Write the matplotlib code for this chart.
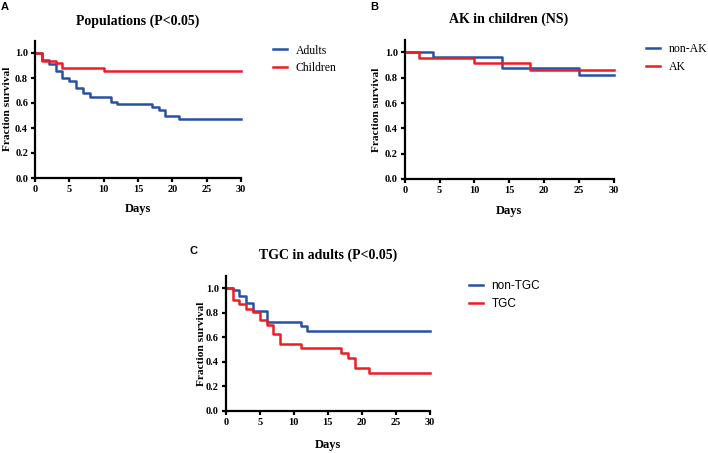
import matplotlib
matplotlib.use("Agg")
import matplotlib.pyplot as plt

# ---- data ----
# Panel A: Populations
a_adult_t = [0, 1, 2, 3, 4, 5, 6, 7, 8, 11, 12, 17, 18, 19, 21, 30]
a_adult_s = [1.0, 0.944, 0.912, 0.853, 0.80, 0.776, 0.717, 0.683, 0.648, 0.611, 0.589, 0.568, 0.547, 0.496, 0.472, 0.472]
a_child_t = [0, 1, 3, 4, 10, 30]
a_child_s = [1.0, 0.94, 0.917, 0.88, 0.853, 0.853]

# Panel B: AK in children
b_nonak_t = [0, 4, 14, 25, 30]
b_nonak_s = [1.0, 0.96, 0.874, 0.824, 0.824]
b_ak_t = [0, 2, 10, 18, 30]
b_ak_s = [1.0, 0.958, 0.913, 0.863, 0.863]

# Panel C: TGC in adults
c_nontgc_t = [0, 1, 2, 3, 4, 6, 11, 12, 30]
c_nontgc_s = [1.0, 0.98, 0.935, 0.875, 0.81, 0.727, 0.69, 0.65, 0.65]
c_tgc_t = [0, 1, 2, 3, 4, 5, 6, 7, 8, 11, 17, 18, 19, 21, 30]
c_tgc_s = [1.0, 0.90, 0.868, 0.833, 0.804, 0.737, 0.70, 0.626, 0.546, 0.51, 0.473, 0.433, 0.349, 0.306, 0.306]

x_ticks = [0, 5, 10, 15, 20, 25, 30]
y_ticks = [0.0, 0.2, 0.4, 0.6, 0.8, 1.0]

BLUE = "#2651a6"
RED = "#ee1c25"
W, H = 708, 453

fig = plt.figure(figsize=(W / 100, H / 100), dpi=100)
SERIF = ["Liberation Serif", "DejaVu Serif"]
SANS = ["Liberation Sans", "DejaVu Sans"]


def px_axes(left, right, y0, ytop):
    return fig.add_axes([left / W, 1 - y0 / H, (right - left) / W, (y0 - ytop) / H])


def style(ax):
    ax.set_xlim(0, 30)
    ax.set_ylim(0, 1.1)
    for s in ["top", "right"]:
        ax.spines[s].set_visible(False)
    for s in ["left", "bottom"]:
        ax.spines[s].set_linewidth(1.6)
    ax.set_xticks(x_ticks)
    ax.set_yticks(y_ticks)
    ax.set_xticklabels([str(v) for v in x_ticks])
    ax.set_yticklabels([f"{v:.1f}" for v in y_ticks])
    ax.tick_params(direction="out", length=3, width=1.6, pad=2)
    for lab in ax.get_xticklabels() + ax.get_yticklabels():
        lab.set_family(SERIF)
        lab.set_fontweight("bold")
        lab.set_fontsize(7.5)
    ax.patch.set_alpha(0)


def panel(left, right, y0, ytop, series, labels, title, tx, ty, letter, lx, ly,
          ylx, yly, dx, dy, legx, legy, legfam):
    ax = px_axes(left, right, y0, ytop)
    lines = []
    for (t, s, c) in series:
        ln, = ax.step(t, s, where="post", color=c, lw=1.8, clip_on=False)
        lines.append(ln)
    style(ax)
    fig.text(tx / W, 1 - ty / H, title, ha="center", va="center",
             family=SERIF, fontweight="bold", fontsize=10)
    fig.text(lx / W, 1 - ly / H, letter, ha="center", va="center",
             family=SANS, fontweight="bold", fontsize=8)
    fig.text(ylx / W, 1 - yly / H, "Fraction survival", ha="center", va="center",
             rotation=90, family=SERIF, fontweight="bold", fontsize=8.2)
    fig.text(dx / W, 1 - dy / H, "Days", ha="center", va="center",
             family=SERIF, fontweight="bold", fontsize=9)
    ax.legend(lines, labels, loc="center left", bbox_to_anchor=(legx / W, 1 - legy / H),
              bbox_transform=fig.transFigure, frameon=False, borderpad=0,
              borderaxespad=0, handlelength=1.2, handletextpad=0.7,
              labelspacing=0.5, prop={"family": legfam, "size": 8.5})
    return ax


panel(35, 241, 178, 40.5,
      [(a_adult_t, a_adult_s, BLUE), (a_child_t, a_child_s, RED)],
      ["Adults", "Children"], "Populations (P<0.05)", 138, 21,
      "A", 5, 7, 7.5, 109, 138, 209, 273, 59.5, SERIF)

panel(404.7, 614, 179, 39.7,
      [(b_nonak_t, b_nonak_s, BLUE), (b_ak_t, b_ak_s, RED)],
      ["non-AK", "AK"], "AK in children (NS)", 509, 19,
      "B", 374, 7, 377, 110, 509, 211, 646, 58, SERIF)

panel(225.7, 430, 411, 275.7,
      [(c_nontgc_t, c_nontgc_s, BLUE), (c_tgc_t, c_tgc_s, RED)],
      ["non-TGC", "TGC"], "TGC in adults (P<0.05)", 328, 255,
      "C", 193, 251, 202, 344, 328, 445, 469, 295, SANS)

fig.savefig("out.png", dpi=100)
